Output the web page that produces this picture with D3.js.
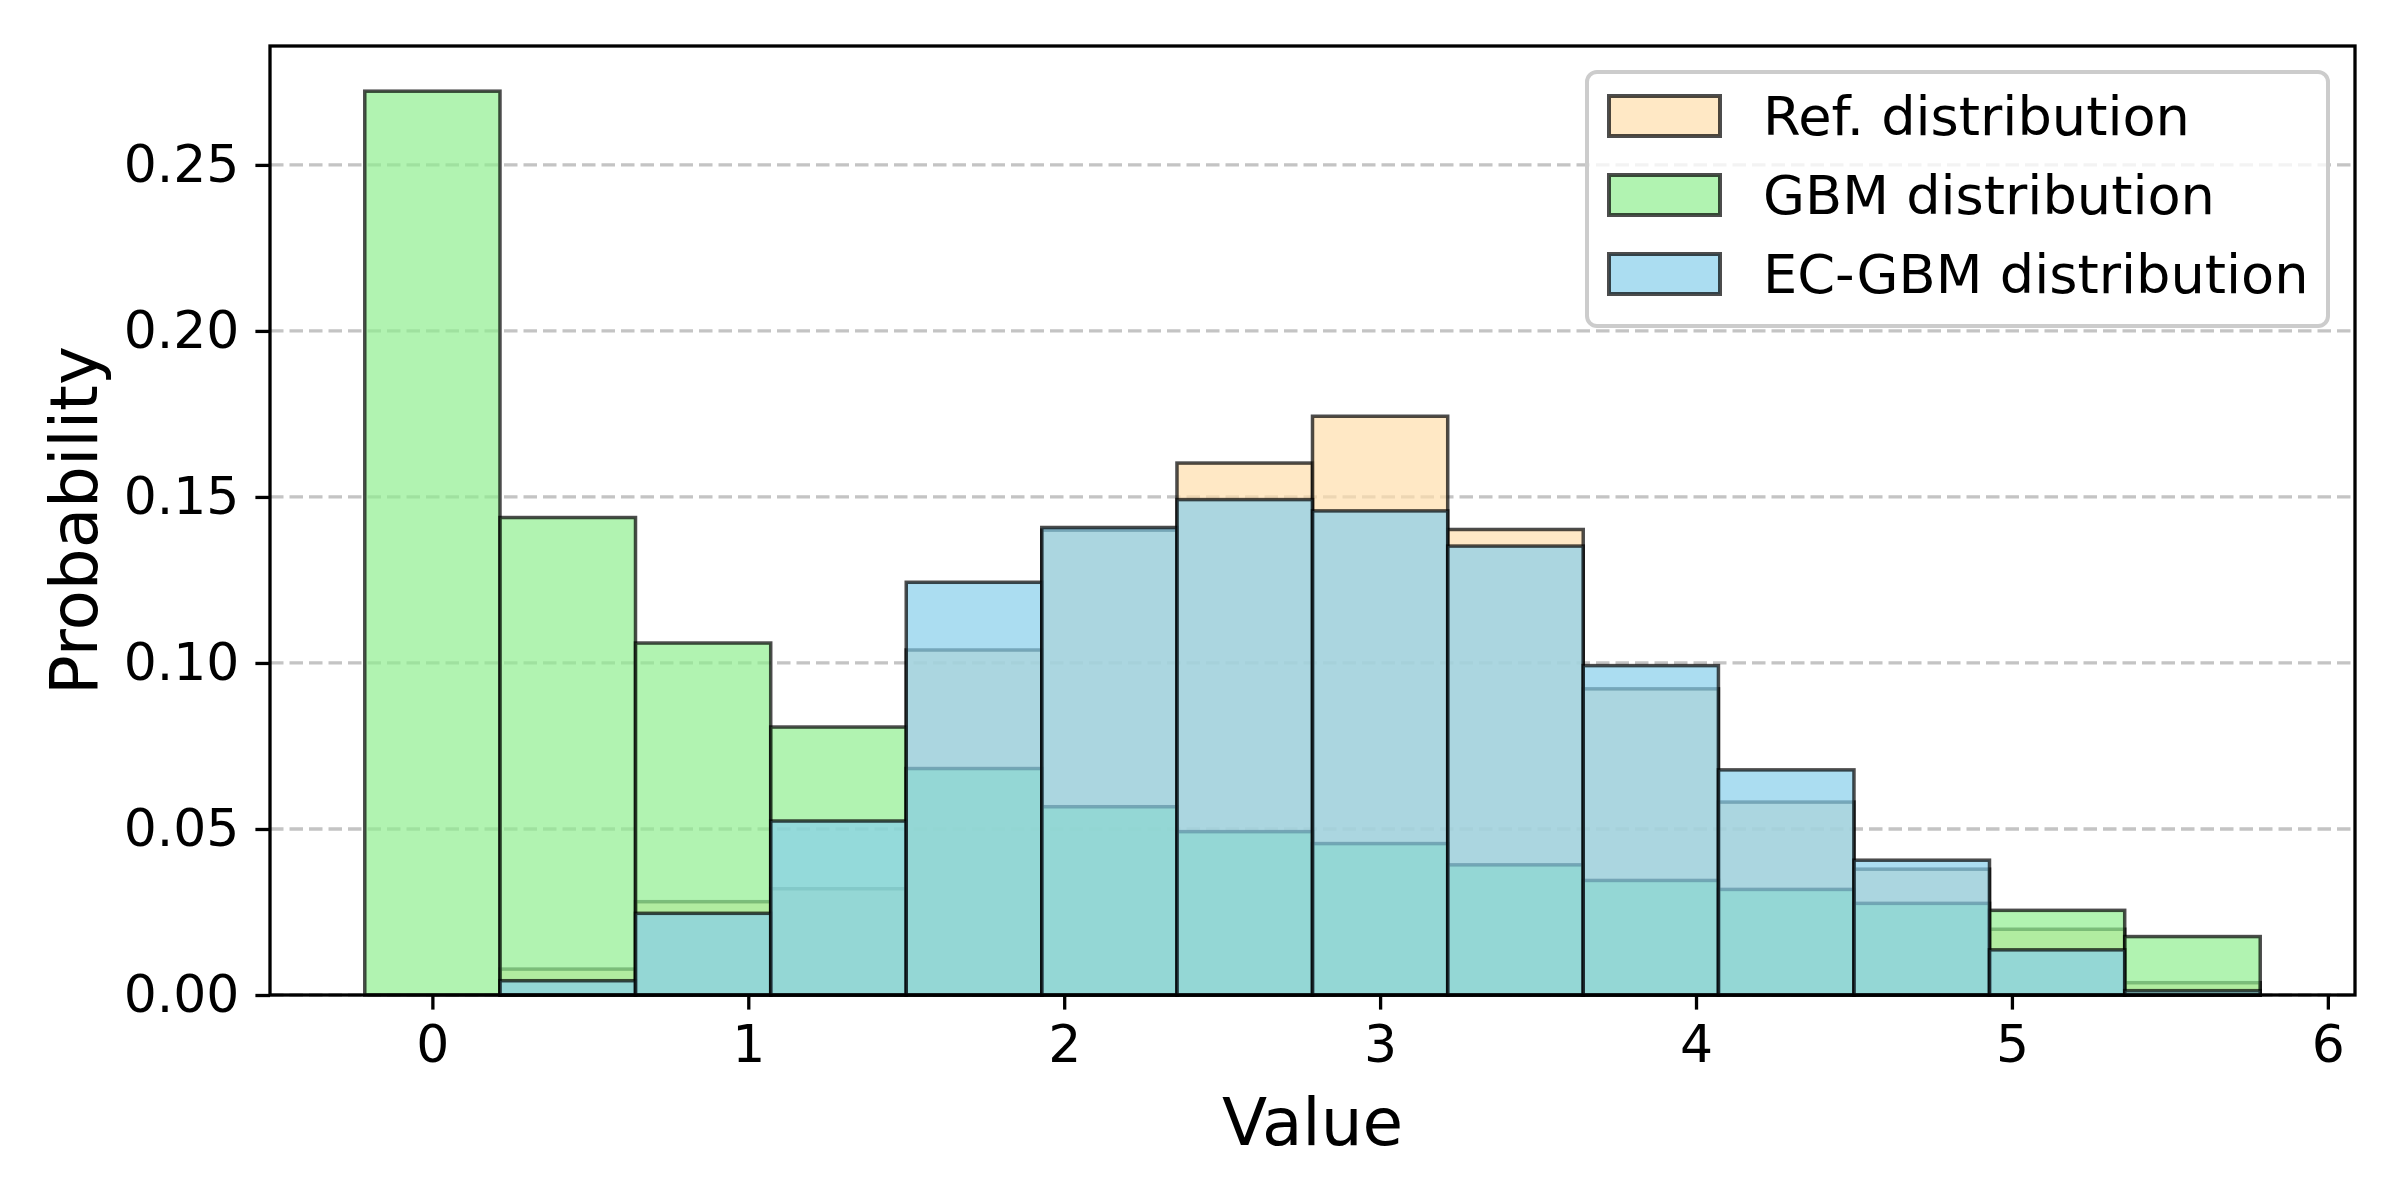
<!DOCTYPE html>
<html><head><meta charset="utf-8">
<script src="https://cdn.jsdelivr.net/npm/d3@7"></script>
<style>body{margin:0;background:#fff} text{font-family:"DejaVu Sans",sans-serif}</style>
</head><body>
<svg id="chart" width="2400" height="1200" xmlns="http://www.w3.org/2000/svg"></svg>
<script>
// Histogram bin edges (14 bins)
const binEdges = [-0.214, 0.214, 0.643, 1.071, 1.500, 1.929, 2.357, 2.786, 3.214, 3.643, 4.071, 4.500, 4.929, 5.357, 5.786];
// Probabilities per bin
const refValues = [0.0000, 0.0078, 0.0281, 0.0320, 0.1039, 0.1400, 0.1602, 0.1743, 0.1402, 0.0922, 0.0581, 0.0379, 0.0198, 0.0037];
const gbmValues = [0.2722, 0.1438, 0.1060, 0.0807, 0.0682, 0.0567, 0.0492, 0.0456, 0.0392, 0.0345, 0.0318, 0.0276, 0.0255, 0.0176];
const ecValues  = [0.0000, 0.0043, 0.0246, 0.0524, 0.1243, 0.1408, 0.1492, 0.1458, 0.1352, 0.0992, 0.0678, 0.0406, 0.0136, 0.0013];
const seriesNames = ["Ref. distribution", "GBM distribution", "EC-GBM distribution"];
const seriesColors = ["navajowhite", "lightgreen", "skyblue"];
const xTicks = [0, 1, 2, 3, 4, 5, 6];
const yTicks = [0.00, 0.05, 0.10, 0.15, 0.20, 0.25];

const series = [refValues, gbmValues, ecValues].map((vals, i) => ({
  name: seriesNames[i], color: seriesColors[i],
  bins: vals.map((v, j) => ({x0: binEdges[j], x1: binEdges[j + 1], v}))
}));

const svg = d3.select("#chart");
const L = 270, R = 2355, T = 46, B = 995;

const xr = binEdges[binEdges.length - 1] - binEdges[0];
const x = d3.scaleLinear()
  .domain([binEdges[0] - 0.05 * xr, binEdges[binEdges.length - 1] + 0.05 * xr])
  .range([L, R]);
const yMax = d3.max([refValues, gbmValues, ecValues].flat());
const y = d3.scaleLinear().domain([0, yMax * 1.05]).range([B, T]);

// grid
svg.append("g").selectAll("line").data(yTicks).join("line")
  .attr("x1", L).attr("x2", R)
  .attr("y1", d => y(d)).attr("y2", d => y(d))
  .attr("stroke", "#c4c4c4").attr("stroke-width", 3.3)
  .attr("stroke-dasharray", "13.5,6");

// bars
series.forEach(s => {
  svg.append("g").selectAll("rect").data(s.bins).join("rect")
    .attr("x", d => x(d.x0)).attr("width", d => x(d.x1) - x(d.x0))
    .attr("y", d => y(d.v)).attr("height", d => y(0) - y(d.v))
    .attr("fill", s.color).attr("fill-opacity", 0.7)
    .attr("stroke", "black").attr("stroke-opacity", 0.7)
    .attr("stroke-width", 3.5);
});

// axes
const xAxis = d3.axisBottom(x).tickValues(xTicks).tickFormat(d3.format("d"))
  .tickSize(14.6).tickPadding(15);
const gx = svg.append("g").attr("transform", `translate(0,${B})`).call(xAxis);
const yAxis = d3.axisLeft(y).tickValues(yTicks).tickFormat(d3.format(".2f"))
  .tickSize(14.6).tickPadding(16);
const gy = svg.append("g").attr("transform", `translate(${L},0)`).call(yAxis);
[gx, gy].forEach(g => {
  g.select(".domain").remove();
  g.selectAll(".tick line").attr("stroke", "black").attr("stroke-width", 3.3);
  g.selectAll(".tick text").attr("font-size", 52).attr("fill", "black")
    .attr("font-family", "DejaVu Sans");
});

// spines
svg.append("rect").attr("x", L).attr("y", T).attr("width", R - L).attr("height", B - T)
  .attr("fill", "none").attr("stroke", "black").attr("stroke-width", 3.3);

// axis labels
svg.append("text").attr("x", (L + R) / 2).attr("y", 1145)
  .attr("text-anchor", "middle").attr("font-size", 66).text("Value");
svg.append("text").attr("transform", `translate(97,${(T + B) / 2}) rotate(-90)`)
  .attr("text-anchor", "middle").attr("font-size", 66).text("Probability");

// legend
const lg = svg.append("g");
lg.append("rect").attr("x", 1587).attr("y", 72).attr("width", 741).attr("height", 254)
  .attr("rx", 10).attr("fill", "white").attr("fill-opacity", 0.8)
  .attr("stroke", "#cccccc").attr("stroke-width", 4);
const rowY = [116, 195, 274];
series.forEach((s, i) => {
  lg.append("rect").attr("x", 1609).attr("y", rowY[i] - 20).attr("width", 111).attr("height", 40)
    .attr("fill", s.color).attr("fill-opacity", 0.7)
    .attr("stroke", "black").attr("stroke-opacity", 0.7).attr("stroke-width", 4);
  lg.append("text").attr("x", 1763).attr("y", rowY[i] + 19)
    .attr("font-size", 54.2).attr("fill", "black").text(s.name);
});
</script>
</body></html>
